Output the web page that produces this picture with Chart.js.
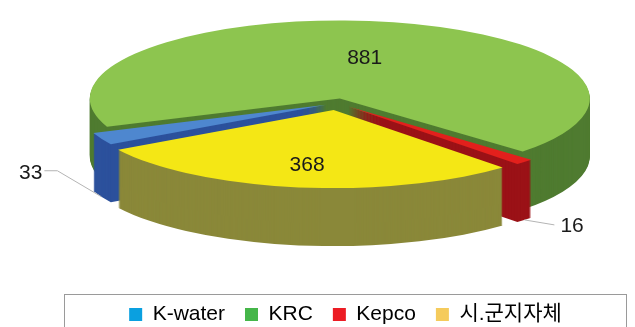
<!DOCTYPE html>
<html>
<head>
<meta charset="utf-8">
<script src="https://cdn.jsdelivr.net/npm/chart.js@4.4.1/dist/chart.umd.min.js"></script>
<style>
  html, body { margin: 0; padding: 0; background: #fff; }
  canvas { display: block; }
</style>
</head>
<body>
<canvas id="pieChart" width="635" height="327"></canvas>
<script>
  // Data
  const categorias = ['K-water', 'KRC', 'Kepco', '시.군지자체'];
  const valores = [33, 881, 16, 368];

  // Colours: top face, side wall, legend swatch
  const coresTopo = ['#4e87cf', '#8dc54f', '#e3201c', '#f4e715'];
  const coresLado = ['#2c519c', '#4f7b30', '#9b1217', '#8a8839'];
  const coresLegenda = ['#0aa0e0', '#45b649', '#ec1c24', '#f5cb5c'];

  // 3D look: ellipse centre / radii, wall height, explode distance per slice
  const CX = 337, CY = 103, RX = 250, RY = 78, DEPTH = 58;
  const explode = [12, 15, 16, 23];
  const raioRotulo = [0, 0.53, 0, 0.72];

  const fonte = '"Liberation Sans", Arial, "Noto Sans CJK KR", sans-serif';

  function geometria(arc, i) {
    const mid = (arc.startAngle + arc.endAngle) / 2;
    return {
      mid,
      cx: CX + Math.cos(mid) * explode[i],
      cy: CY + Math.sin(mid) * explode[i] * RY / RX,
    };
  }

  function preencherFatia(ctx, arc, g, dy, cor) {
    ctx.save();
    ctx.translate(g.cx, g.cy + dy);
    ctx.scale(RX, RY);
    ctx.beginPath();
    ctx.moveTo(0, 0);
    ctx.arc(0, 0, 1, arc.startAngle, arc.endAngle);
    ctx.closePath();
    ctx.restore();
    ctx.fillStyle = cor;
    ctx.fill();
  }

  const pie3d = {
    id: 'pie3d',
    beforeInit(chart) {
      // pull the legend row a little lower
      const fitOriginal = chart.legend.fit;
      chart.legend.fit = function () {
        fitOriginal.call(this);
        this.height -= 8;
      };
    },
    beforeDatasetsDraw(chart) {
      const ctx = chart.ctx;
      const arcs = chart.getDatasetMeta(0).data;
      const geo = arcs.map((arc, i) => geometria(arc, i));
      ctx.save();
      // walls from the bottom up, then the tops
      for (let d = DEPTH; d >= 1; d--) {
        arcs.forEach((arc, i) => preencherFatia(ctx, arc, geo[i], d, coresLado[i]));
      }
      arcs.forEach((arc, i) => preencherFatia(ctx, arc, geo[i], 0, coresTopo[i]));
      ctx.restore();
      return false;
    },
    afterDraw(chart) {
      const ctx = chart.ctx;
      const arcs = chart.getDatasetMeta(0).data;
      const total = valores.reduce((a, b) => a + b, 0);
      ctx.save();
      ctx.font = '21px ' + fonte;
      ctx.fillStyle = '#1a1a1a';
      ctx.textBaseline = 'middle';
      arcs.forEach((arc, i) => {
        const g = geometria(arc, i);
        const cos = Math.cos(g.mid), sin = Math.sin(g.mid);
        const texto = String(valores[i]);
        if (valores[i] / total > 0.05) {
          ctx.textAlign = 'center';
          ctx.fillText(texto, g.cx + cos * RX * raioRotulo[i], g.cy + sin * RY * raioRotulo[i]);
          return;
        }
        // small slices: label outside with a leader line
        const ax = g.cx + cos * RX, ay = g.cy + sin * RY + DEPTH;
        ctx.strokeStyle = '#b4b4b4';
        ctx.lineWidth = 1;
        ctx.beginPath();
        ctx.moveTo(ax, ay);
        if (cos < 0) {
          ctx.lineTo(ax - 44, ay - 26);
          ctx.lineTo(ax - 57, ay - 26);
          ctx.stroke();
          ctx.textAlign = 'right';
          ctx.fillText(texto, ax - 59, ay - 24);
        } else {
          ctx.lineTo(ax + 30, ay + 5);
          ctx.stroke();
          ctx.textAlign = 'left';
          ctx.fillText(texto, ax + 36, ay + 6);
        }
      });
      // frame around the legend
      const lg = chart.legend;
      ctx.strokeStyle = '#9a9a9a';
      ctx.lineWidth = 1;
      ctx.strokeRect(lg.left + 0.5, 294.5, lg.right - lg.left - 1, 60);
      ctx.restore();
    }
  };

  const ctxPie = document.getElementById('pieChart').getContext('2d');
  new Chart(ctxPie, {
    type: 'pie',
    data: {
      labels: categorias,
      datasets: [
        {
          data: valores,
          backgroundColor: coresTopo,
          borderWidth: 0,
        },
      ],
    },
    options: {
      responsive: false,
      animation: false,
      rotation: 239.5,
      layout: { padding: { left: 64, right: 8, bottom: 0 } },
      plugins: {
        tooltip: { enabled: false },
        legend: {
          position: 'bottom',
          labels: {
            boxWidth: 13,
            boxHeight: 13,
            padding: 20,
            color: '#1a1a1a',
            font: { size: 21, family: fonte },
            generateLabels: () => categorias.map((texto, i) => ({
              text: texto,
              fillStyle: coresLegenda[i],
              strokeStyle: coresLegenda[i],
              lineWidth: 0,
              hidden: false,
              index: i,
              datasetIndex: 0,
            })),
          },
        },
      },
    },
    plugins: [pie3d],
  });
</script>
</body>
</html>
